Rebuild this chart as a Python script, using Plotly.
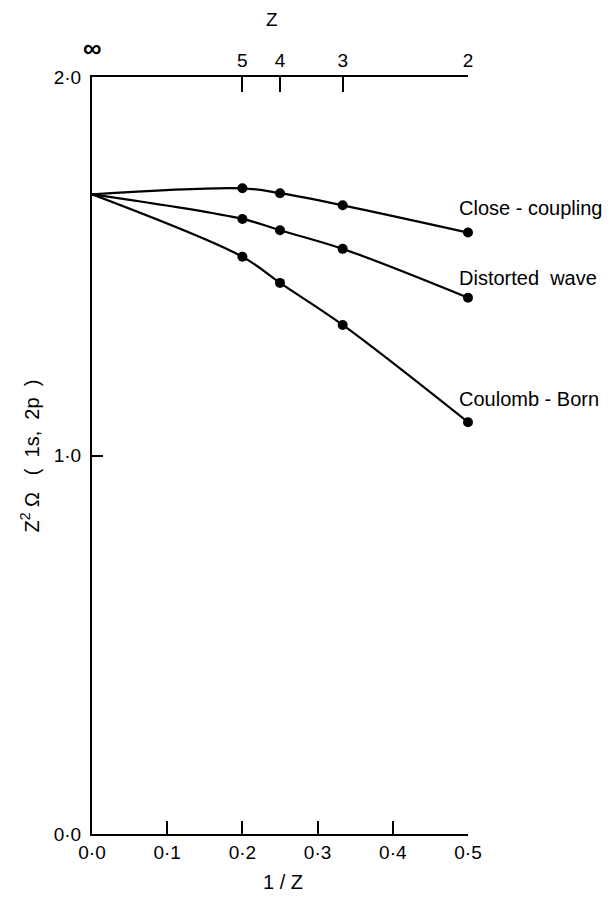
import plotly.graph_objects as go

# ---- data ----
inv_Z = [0.0, 0.2, 0.25, 1/3, 0.5]
close_coupling = [1.690, 1.706, 1.693, 1.661, 1.589]
distorted_wave = [1.690, 1.625, 1.595, 1.546, 1.417]
coulomb_born = [1.690, 1.525, 1.456, 1.345, 1.088]
series_names = ["Close - coupling", "Distorted  wave", "Coulomb - Born"]
label_y = [1.655, 1.470, 1.148]

x_tickvals = [0.0, 0.1, 0.2, 0.3, 0.4, 0.5]
x_ticktext = ["0·0", "0·1", "0·2", "0·3", "0·4", "0·5"]
top_tickvals = [0.2, 0.25, 1/3, 0.5]
top_ticktext = ["5", "4", "3", "2"]
y_tickvals = [0.0, 1.0, 2.0]
y_ticktext = ["0·0", "1·0", "2·0"]

FONT = "Liberation Sans"
fig = go.Figure()

for ys in (close_coupling, distorted_wave, coulomb_born):
    fig.add_trace(go.Scatter(x=inv_Z, y=ys, mode="lines",
                             line=dict(color="black", width=2.2, shape="spline", smoothing=1.0),
                             showlegend=False, hoverinfo="skip"))
    fig.add_trace(go.Scatter(x=inv_Z[1:], y=ys[1:], mode="markers",
                             marker=dict(color="black", size=10),
                             showlegend=False, cliponaxis=False))

# invisible trace to show top axis
fig.add_trace(go.Scatter(x=[0, 0.5], y=[0, 0], xaxis="x2", mode="markers",
                         marker=dict(opacity=0), showlegend=False, hoverinfo="skip"))

for name, ly in zip(series_names, label_y):
    fig.add_annotation(x=0.485, y=ly, xref="x", yref="y", text=name, showarrow=False,
                       xanchor="left", yanchor="middle",
                       font=dict(family=FONT, size=20, color="black"))

# axis titles / infinity
fig.add_annotation(x=-0.165, y=0.5, xref="paper", yref="paper",
                   text="Z<sup>2</sup> Ω   (  1s,  2p  )", textangle=-90, showarrow=False,
                   xanchor="center", yanchor="middle",
                   font=dict(family=FONT, size=20, color="black"))
fig.add_annotation(x=0.508, y=-0.064, xref="paper", yref="paper", text="1 / Z",
                   showarrow=False, xanchor="center", yanchor="middle",
                   font=dict(family=FONT, size=20, color="black"))
fig.add_annotation(x=0.479, y=1.0, xref="paper", yref="paper", text="Z",
                   showarrow=False, xanchor="center", yanchor="bottom", yshift=45,
                   font=dict(family=FONT, size=19, color="black"))
fig.add_annotation(x=0.0, y=1.038, xref="paper", yref="paper", text="<b>∞</b>",
                   showarrow=False, xanchor="center", yanchor="middle",
                   font=dict(family=FONT, size=26, color="black"))

axis_font = dict(family=FONT, size=19, color="black")
fig.update_layout(
    width=602, height=902,
    margin=dict(l=84, r=142, t=69, b=76),
    plot_bgcolor="white", paper_bgcolor="white",
    xaxis=dict(range=[0, 0.5], tickvals=x_tickvals, ticktext=x_ticktext,
               showgrid=False, zeroline=False, showline=True, linecolor="black", linewidth=2,
               ticks="inside", ticklen=13, tickwidth=2, tickcolor="black", tickfont=axis_font,
               ticklabelstandoff=0),
    xaxis2=dict(range=[0, 0.5], overlaying="x", side="top", anchor="y",
                tickvals=top_tickvals, ticktext=top_ticktext,
                showgrid=False, zeroline=False, showline=True, linecolor="black", linewidth=2,
                ticks="inside", ticklen=15, tickwidth=2, tickcolor="black", tickfont=axis_font),
    yaxis=dict(range=[0, 2], tickvals=y_tickvals, ticktext=y_ticktext,
               showgrid=False, zeroline=False, showline=True, linecolor="black", linewidth=2,
               ticks="inside", ticklen=11, tickwidth=2, tickcolor="black", tickfont=axis_font,
               ticklabelstandoff=5),
)

fig.write_html("out.html")
